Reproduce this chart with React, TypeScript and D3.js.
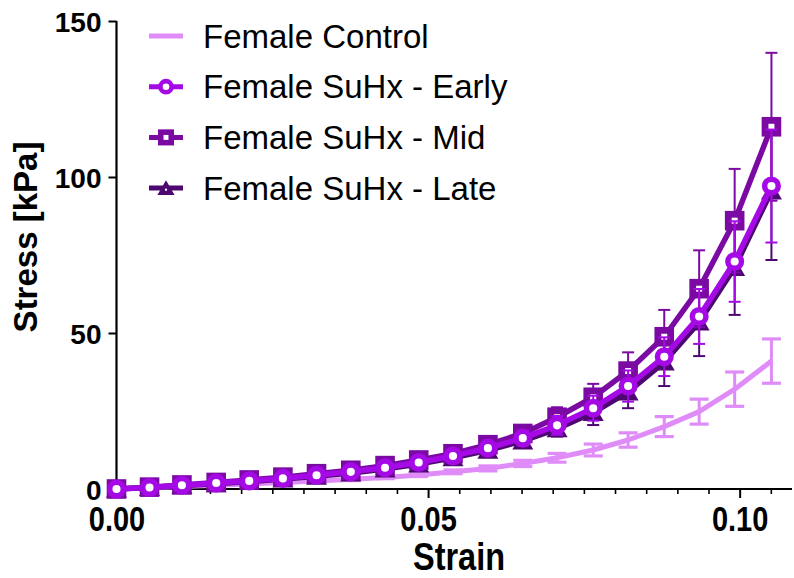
import React, { useEffect, useRef } from "react";
import * as d3 from "d3";

// strain at each loading step
const strain = [
  0, 0.0053, 0.0105, 0.016, 0.0213, 0.0267, 0.0321, 0.0376, 0.0431, 0.0485,
  0.054, 0.0596, 0.0652, 0.0707, 0.0765, 0.0821, 0.0879, 0.0935, 0.0992, 0.1051,
];

const controlMean = [0, 0.4, 0.8, 1.2, 1.6, 2.1, 2.6, 3.1, 3.7, 4.5, 5.5, 6.6, 8.2, 10.0, 12.5, 15.7, 20.0, 24.8, 32.0, 41.0];
const controlSem = [0, 0.1, 0.1, 0.2, 0.2, 0.3, 0.3, 0.4, 0.4, 0.5, 0.6, 0.8, 1.0, 1.4, 1.9, 2.3, 3.2, 4.0, 5.5, 7.1];

const earlyMean = [0, 0.5, 1.2, 1.9, 2.6, 3.4, 4.4, 5.5, 6.8, 8.5, 10.6, 13.1, 16.3, 20.4, 25.9, 33.0, 42.4, 55.3, 72.9, 97.1];
const earlySem = [0, 0.1, 0.2, 0.3, 0.4, 0.5, 0.6, 0.8, 1.0, 1.2, 1.5, 1.9, 2.4, 3.0, 4.0, 5.0, 6.2, 8.8, 12.9, 18.1];

const midMean = [0, 0.6, 1.3, 2.1, 2.9, 3.8, 4.9, 6.0, 7.5, 9.3, 11.3, 14.2, 17.8, 23.0, 29.4, 37.8, 48.8, 64.2, 86.0, 116.1];
const midSem = [0, 0.1, 0.2, 0.3, 0.4, 0.5, 0.6, 0.8, 1.0, 1.3, 1.6, 2.0, 2.6, 3.2, 4.3, 6.0, 8.6, 12.3, 16.6, 23.7];

const lateMean = [0, 0.5, 1.1, 1.7, 2.4, 3.2, 4.1, 5.1, 6.4, 8.0, 10.0, 12.4, 15.4, 19.3, 24.5, 31.1, 40.7, 53.5, 71.0, 95.5];
const lateSem = [0, 0.1, 0.2, 0.2, 0.3, 0.4, 0.5, 0.6, 0.8, 1.0, 1.3, 1.6, 2.0, 2.5, 4.0, 5.2, 7.7, 10.9, 15.2, 22.1];

const seriesNames = ["Female Control", "Female SuHx - Early", "Female SuHx - Mid", "Female SuHx - Late"];
const xTicks = [0, 0.05, 0.1];
const xTickLabels = ["0.00", "0.05", "0.10"];
const xMinorTicks = [
  0.005, 0.01, 0.015, 0.02, 0.025, 0.03, 0.035, 0.04, 0.045, 0.055, 0.06, 0.065,
  0.07, 0.075, 0.08, 0.085, 0.09, 0.095, 0.105,
];
const yTicks = [0, 50, 100, 150];

const FONT = "'Liberation Sans', Arial, sans-serif";

const App = () => {
  const svgRef = useRef<SVGSVGElement>(null);

  useEffect(() => {
    const svg = d3.select(svgRef.current);
    svg.selectAll("*").remove();

    const x = d3.scaleLinear().domain([0, 0.1084]).range([116.5, 792]);
    const y = d3.scaleLinear().domain([0, 150]).range([489, 21]);

    const series = [
      { name: seriesNames[0], mean: controlMean, sem: controlSem, color: "#e08cf8", shape: "none" },
      { name: seriesNames[1], mean: earlyMean, sem: earlySem, color: "#a50ae6", shape: "circle" },
      { name: seriesNames[2], mean: midMean, sem: midSem, color: "#7b0aa3", shape: "square" },
      { name: seriesNames[3], mean: lateMean, sem: lateSem, color: "#4c0870", shape: "triangle" },
    ];

    // axes
    const xAxis = svg
      .append("g")
      .attr("transform", `translate(0,${y(0)})`)
      .call(d3.axisBottom(x).tickValues(xTicks).tickSize(9).tickFormat((d, i) => xTickLabels[i]));
    xAxis.select(".domain").attr("d", `M${x(0)},0H792`).attr("stroke-width", 2.2);
    xAxis.selectAll(".tick line").attr("stroke-width", 2);
    xAxis
      .selectAll(".tick text")
      .attr("y", 0)
      .attr("dy", 0)
      .attr("transform", "translate(0,42) scale(1,1.2)")
      .attr("font-family", FONT)
      .attr("font-weight", "bold")
      .attr("font-size", 29)
      .attr("fill", "#000");

    svg
      .append("g")
      .attr("transform", `translate(0,${y(0)})`)
      .call(d3.axisBottom(x).tickValues(xMinorTicks).tickSize(5).tickFormat(() => ""))
      .call((g) => g.select(".domain").remove())
      .selectAll(".tick line")
      .attr("stroke-width", 1.6);

    const yAxis = svg
      .append("g")
      .attr("transform", `translate(${x(0)},0)`)
      .call(d3.axisLeft(y).tickValues(yTicks).tickSize(8));
    yAxis.select(".domain").attr("d", `M0,${y(0)}V${y(150)}`).attr("stroke-width", 2.2);
    yAxis.selectAll(".tick line").attr("stroke-width", 2);
    yAxis
      .selectAll(".tick text")
      .attr("x", -15)
      .attr("dy", "0.36em")
      .attr("font-family", FONT)
      .attr("font-weight", "bold")
      .attr("font-size", 28)
      .attr("fill", "#000");

    svg
      .append("text")
      .attr("transform", "translate(459,570) scale(1,1.22)")
      .attr("text-anchor", "middle")
      .attr("font-family", FONT)
      .attr("font-weight", "bold")
      .attr("font-size", 32.5)
      .text("Strain");

    svg
      .append("text")
      .attr("transform", "translate(36.5,237) rotate(-90)")
      .attr("text-anchor", "middle")
      .attr("font-family", FONT)
      .attr("font-weight", "bold")
      .attr("font-size", 33)
      .text("Stress [kPa]");

    const drawMarker = (g, shape, color, cx, cy, s) => {
      if (shape === "circle") {
        g.append("circle")
          .attr("cx", cx)
          .attr("cy", cy)
          .attr("r", 6.8 * s)
          .attr("fill", "#fff")
          .attr("stroke", color)
          .attr("stroke-width", 5.5 * s);
      } else if (shape === "square") {
        const h = 9.8 * s;
        g.append("rect")
          .attr("x", cx - h)
          .attr("y", cy - h)
          .attr("width", 2 * h)
          .attr("height", 2 * h)
          .attr("fill", color);
        g.append("rect")
          .attr("x", cx - 3 * s)
          .attr("y", cy - 3 * s)
          .attr("width", 6 * s)
          .attr("height", 6 * s)
          .attr("fill", "#fff");
      } else if (shape === "triangle") {
        g.append("path")
          .attr("d", `M${cx},${cy - 9.5 * s}L${cx + 10.5 * s},${cy + 8.5 * s}L${cx - 10.5 * s},${cy + 8.5 * s}Z`)
          .attr("fill", color);
        g.append("circle").attr("cx", cx).attr("cy", cy + 2 * s).attr("r", 1.4 * s).attr("fill", "#fff");
      }
    };

    // draw order: control at the back, early on top
    const order = [0, 3, 2, 1];
    order.forEach((si) => {
      const s = series[si];
      const g = svg.append("g");
      const isControl = s.shape === "none";
      const capW = isControl ? 9.5 : 6;

      // error bars
      s.mean.forEach((m, i) => {
        const e = s.sem[i];
        if (!e) return;
        const cx = x(strain[i]);
        g.append("line")
          .attr("x1", cx)
          .attr("x2", cx)
          .attr("y1", y(m - e))
          .attr("y2", y(m + e))
          .attr("stroke", s.color)
          .attr("stroke-width", isControl ? 3 : 2);
        [m - e, m + e].forEach((v) => {
          g.append("line")
            .attr("x1", cx - capW)
            .attr("x2", cx + capW)
            .attr("y1", y(v))
            .attr("y2", y(v))
            .attr("stroke", s.color)
            .attr("stroke-width", isControl ? 3.2 : 2);
        });
      });

      const line = d3
        .line<number>()
        .x((d, i) => x(strain[i]))
        .y((d) => y(d));
      g.append("path")
        .datum(s.mean)
        .attr("d", line)
        .attr("fill", "none")
        .attr("stroke", s.color)
        .attr("stroke-width", isControl ? 5 : 5.5)
        .attr("stroke-linejoin", "round");

      if (!isControl) {
        s.mean.forEach((m, i) => drawMarker(g, s.shape, s.color, x(strain[i]), y(m), 1));
      }
    });

    // legend
    const legend = svg.append("g");
    series.forEach((s, i) => {
      const ly = 36 + i * 50.7;
      legend
        .append("line")
        .attr("x1", 149)
        .attr("x2", 183)
        .attr("y1", ly)
        .attr("y2", ly)
        .attr("stroke", s.color)
        .attr("stroke-width", 5);
      if (s.shape !== "none") drawMarker(legend, s.shape, s.color, 166, ly, 0.82);
      legend
        .append("text")
        .attr("x", 203)
        .attr("y", ly + 11.5)
        .attr("font-family", FONT)
        .attr("font-size", 33)
        .attr("fill", "#000")
        .text(s.name);
    });
  }, []);

  return (
    <svg
      ref={svgRef}
      width={794}
      height={578}
      style={{ position: "absolute", left: 0, top: 0, background: "#fff" }}
    />
  );
};

export default App;
